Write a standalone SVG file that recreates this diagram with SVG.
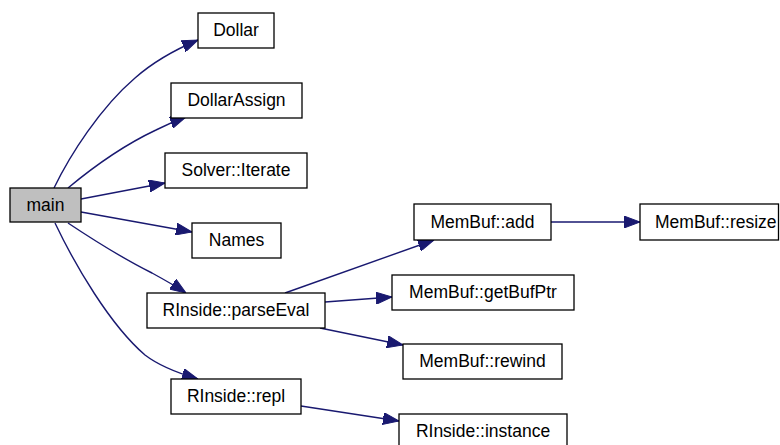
<svg xmlns="http://www.w3.org/2000/svg" width="780" height="445" viewBox="0 0 780 445">
<style>
.n rect{fill:#fff;stroke:#000;stroke-width:1.3}
.n text{font-family:"Liberation Sans",Arial,sans-serif;font-size:17.5px;fill:#000;text-anchor:middle}
.e path{fill:none;stroke:#191970;stroke-width:1.4}
</style>
<defs>
<marker id="a" markerUnits="userSpaceOnUse" viewBox="0 0 16 12" refX="16" refY="6" markerWidth="16" markerHeight="12" orient="auto">
<path d="M0,0 L16,6 L0,12 Z" fill="#191970" stroke="#191970" stroke-width="1"/>
</marker>
</defs>
<rect width="780" height="445" fill="#fff"/>
<g class="e" id="edges">
<path marker-end="url(#a)" d="M54,188 C70,155 100,108 135,78 C152,63 172,51 198,40"/>
<path marker-end="url(#a)" d="M68,188 C92,168 122,146 156,130 C166,125 175,121 186,117"/>
<path marker-end="url(#a)" d="M81,199 L165,183"/>
<path marker-end="url(#a)" d="M81,212 L192,232"/>
<path marker-end="url(#a)" d="M68,223 C92,239 122,258 152,273 C163,279 174,285 186,293"/>
<path marker-end="url(#a)" d="M55,223 C75,265 110,325 145,355 C158,365 174,372 198,379"/>
<path marker-end="url(#a)" d="M285,293 L434,240"/>
<path marker-end="url(#a)" d="M325,302 L392,297"/>
<path marker-end="url(#a)" d="M320,328 L403,345"/>
<path marker-end="url(#a)" d="M551,222 L640,222"/>
<path marker-end="url(#a)" d="M301,406 L399,421"/>
</g>
<g class="n" id="main"><rect x="10" y="188" width="71" height="34" style="fill:#bfbfbf"/><text x="45.5" y="211">main</text></g>
<g class="n" id="Dollar"><rect x="198" y="13" width="76" height="35"/><text x="236" y="36">Dollar</text></g>
<g class="n" id="DollarAssign"><rect x="171" y="83" width="131" height="35"/><text x="236.5" y="106">DollarAssign</text></g>
<g class="n" id="SolverIterate"><rect x="165" y="153" width="142" height="35"/><text x="236" y="176">Solver::Iterate</text></g>
<g class="n" id="Names"><rect x="192" y="223" width="89" height="35"/><text x="236.5" y="246">Names</text></g>
<g class="n" id="parseEval"><rect x="147" y="293" width="178" height="35"/><text x="236" y="316">RInside::parseEval</text></g>
<g class="n" id="repl"><rect x="171" y="379" width="130" height="35"/><text x="236" y="402">RInside::repl</text></g>
<g class="n" id="add"><rect x="414" y="204" width="137" height="36"/><text x="482.5" y="228">MemBuf::add</text></g>
<g class="n" id="resize"><rect x="640" y="204" width="138.5" height="36"/><text x="655" y="228" style="text-anchor:start">MemBuf::resize</text></g>
<g class="n" id="getBufPtr"><rect x="392" y="275" width="182" height="35"/><text x="483" y="298">MemBuf::getBufPtr</text></g>
<g class="n" id="rewind"><rect x="403" y="344" width="159" height="35"/><text x="482.5" y="367">MemBuf::rewind</text></g>
<g class="n" id="instance"><rect x="399" y="414" width="168" height="35"/><text x="483" y="437">RInside::instance</text></g>
</svg>
